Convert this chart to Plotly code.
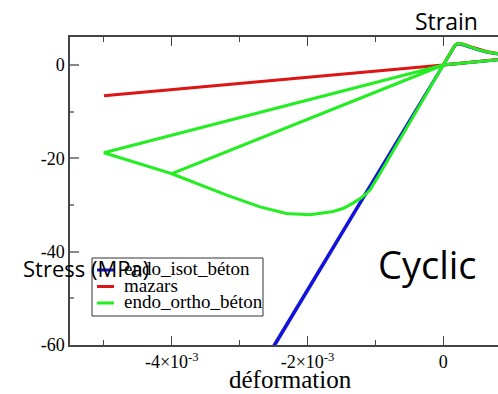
import plotly.graph_objects as go

# Strain (-) / stress (MPa) histories for the three concrete models
isot_strain = [0, 0.1e-3, 0.17e-3, 0.21e-3, 0.25e-3, 0.3e-3, 0.4e-3, 0.5e-3, 0.65e-3, 0.8e-3, 1.0e-3, 1.2e-3,
               0, -0.5e-3, -1.0e-3, -1.5e-3, -2.0e-3, -2.5e-3, -2.7e-3,
               -2.0e-3, -1.0e-3, 0]
isot_stress = [0, 2.4, 4.1, 4.55, 4.5, 4.25, 3.75, 3.3, 2.75, 2.3, 1.9, 1.65,
               0, -12.1, -24.2, -36.3, -48.7, -60.5, -65.0,
               -48.0, -24.0, 0]

mazars_strain = [0, 0.1e-3, 0.17e-3, 0.21e-3, 0.25e-3, 0.3e-3, 0.4e-3, 0.5e-3, 0.65e-3, 0.8e-3, 1.0e-3, 1.2e-3,
                 0, -5.0e-3]
mazars_stress = [0, 2.45, 4.15, 4.6, 4.6, 4.45, 3.95, 3.45, 2.85, 2.45, 2.05, 1.75,
                 0, -6.6]

ortho_strain = [0, 0.1e-3, 0.17e-3, 0.21e-3, 0.25e-3, 0.3e-3, 0.4e-3, 0.5e-3, 0.65e-3, 0.8e-3, 1.0e-3, 1.2e-3,
                0, -0.3e-3, -0.64e-3, -0.93e-3, -1.08e-3, -1.2e-3, -1.33e-3, -1.47e-3, -1.62e-3, -1.965e-3,
                -2.31e-3, -2.70e-3, -3.19e-3, -3.685e-3, -4.0e-3,
                0, -4.0e-3, -5.0e-3, 0]
ortho_stress = [0, 2.45, 4.15, 4.6, 4.6, 4.4, 3.9, 3.35, 2.8, 2.35, 1.95, 1.65,
                0, -7.5, -16.1, -23.2, -26.8, -28.4, -29.6, -30.7, -31.4, -32.1,
                -31.8, -30.4, -27.9, -25.0, -23.3,
                0, -23.3, -18.8, 0]

series_names = ["endo_isot_béton", "mazars", "endo_ortho_béton"]
series_colors = ["#1414d8", "#dd1414", "#22ee22"]

x_ticks = [-4e-3, -2e-3, 0]
x_tick_text = ["-4×10<sup>-3</sup>", "-2×10<sup>-3</sup>", "0"]
x_minor = [-5e-3, -3e-3, -1e-3]
y_ticks = [0, -20, -40, -60]
y_tick_text = ["0", "-20", "-40", "-60"]
y_minor = [-10, -30, -50]

serif = "Liberation Serif"
sans = "Open Sans"
axis_col = "#444444"

# plot area geometry (pixels) used to place the legend box and captions
W, H = 498, 394
L, R, T, B = 70, 0, 37, 49
PW, PH = W - L - R, H - T - B


def px(xp):
    return (xp - L) / PW


def py(yp):
    return (H - B - yp) / PH


fig = go.Figure()
for xs, ys, name, col in zip([isot_strain, mazars_strain, ortho_strain],
                             [isot_stress, mazars_stress, ortho_stress],
                             series_names, series_colors):
    fig.add_trace(go.Scatter(x=xs, y=ys, mode="lines", name=name,
                             line=dict(color=col, width=3), showlegend=False))

# legend: framed box with short line samples
shapes = [dict(type="rect", xref="paper", yref="paper",
               x0=px(92), x1=px(263), y0=py(316), y1=py(258),
               line=dict(color="#333333", width=1), fillcolor="white", layer="above")]
annotations = []
row_y = [270, 286.5, 303]
for name, col, ry in zip(series_names, series_colors, row_y):
    shapes.append(dict(type="line", xref="paper", yref="paper",
                       x0=px(97), x1=px(114), y0=py(ry), y1=py(ry),
                       line=dict(color=col, width=3), layer="above"))
    annotations.append(dict(text=name, xref="paper", yref="paper", x=px(122), y=py(ry - 1.5),
                            xanchor="left", yanchor="middle", showarrow=False,
                            font=dict(family=serif, size=19, color="black")))

annotations += [
    dict(text="déformation", xref="paper", yref="paper", x=px(290), y=py(380),
         xanchor="center", yanchor="middle", showarrow=False,
         font=dict(family=serif, size=25, color="black")),
    dict(text="Strain", xref="paper", yref="paper", x=px(446), y=py(21),
         xanchor="center", yanchor="middle", showarrow=False,
         font=dict(family=sans, size=23, color="black")),
    dict(text="Stress (MPa)", xref="paper", yref="paper", x=px(86), y=py(268),
         xanchor="center", yanchor="middle", showarrow=False,
         font=dict(family=sans, size=22, color="black")),
    dict(text="Cyclic", xref="paper", yref="paper", x=px(427), y=py(264),
         xanchor="center", yanchor="middle", showarrow=False,
         font=dict(family=sans, size=38, color="black")),
]

fig.update_layout(
    width=W, height=H,
    margin=dict(l=L, r=R, t=T, b=B),
    paper_bgcolor="white", plot_bgcolor="white",
    showlegend=False,
    xaxis=dict(range=[-5.5e-3, 0.807e-3], tickvals=x_ticks, ticktext=x_tick_text,
               ticks="inside", ticklen=9, tickcolor=axis_col, tickwidth=1,
               showline=True, linecolor=axis_col, linewidth=1.5, mirror="ticks",
               showgrid=False, zeroline=False,
               tickfont=dict(family=serif, size=18, color="black"),
               minor=dict(tickvals=x_minor, ticks="inside", ticklen=5, tickcolor=axis_col)),
    yaxis=dict(range=[-60, 6.0], tickvals=y_ticks, ticktext=y_tick_text,
               ticks="inside", ticklen=9, tickcolor="#888888", tickwidth=1.5,
               showline=True, linecolor=axis_col, linewidth=1.5, mirror=False,
               showgrid=False, zeroline=False,
               tickfont=dict(family=serif, size=18, color="black"),
               minor=dict(tickvals=y_minor, ticks="inside", ticklen=4, tickcolor="#888888")),
    shapes=shapes,
    annotations=annotations,
)

fig.write_html("out.html")
